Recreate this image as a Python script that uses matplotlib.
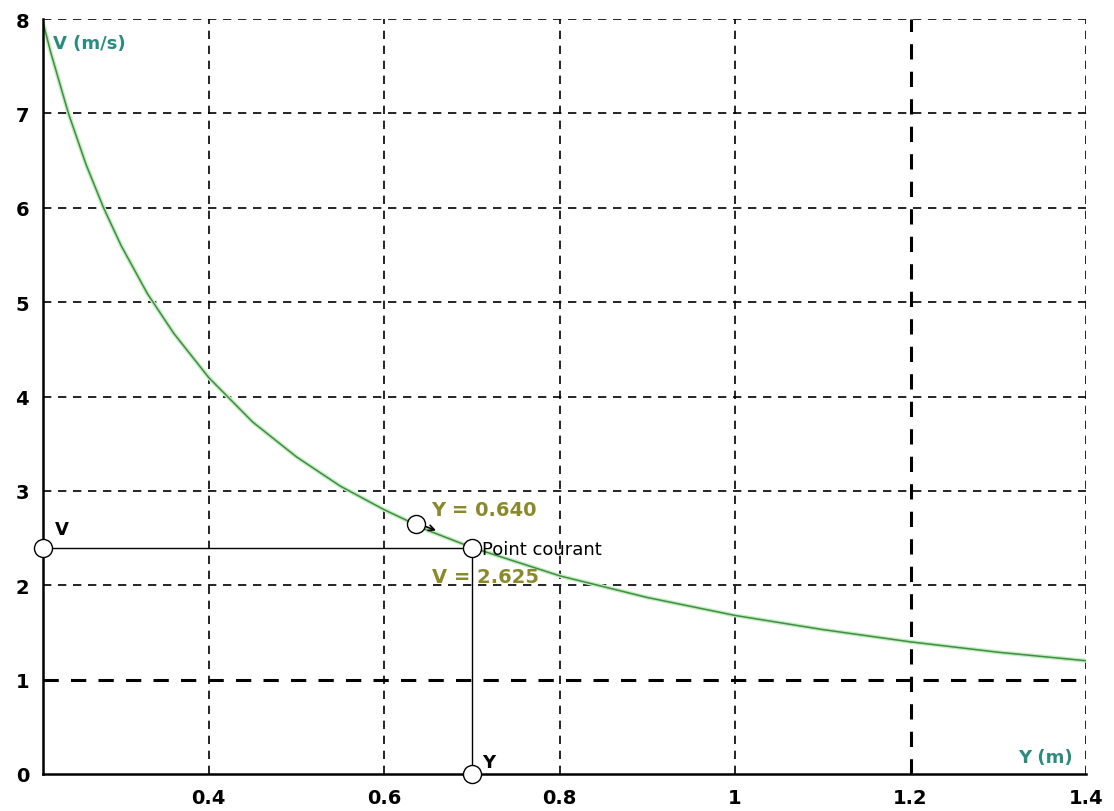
import matplotlib
matplotlib.use("Agg")
import matplotlib.pyplot as plt

# Curve values
depth_y = [0.21, 0.22, 0.24, 0.26, 0.28, 0.30, 0.33, 0.36, 0.40, 0.45, 0.50,
           0.55, 0.60, 0.65, 0.70, 0.80, 0.90, 1.00, 1.10, 1.20, 1.30, 1.40]
speed_v = [8.00, 7.64, 7.00, 6.46, 6.00, 5.60, 5.09, 4.67, 4.20, 3.73, 3.36,
           3.05, 2.80, 2.58, 2.40, 2.10, 1.87, 1.68, 1.53, 1.40, 1.29, 1.20]

x_ticks = [0.4, 0.6, 0.8, 1.0, 1.2, 1.4]
x_tick_labels = ["0.4", "0.6", "0.8", "1", "1.2", "1.4"]
y_ticks = [0, 1, 2, 3, 4, 5, 6, 7, 8]
y_tick_labels = ["0", "1", "2", "3", "4", "5", "6", "7", "8"]

current_point = (0.70, 2.40)
cursor_point = (0.636, 2.65)
cursor_label_y = "Y = 0.640"
cursor_label_v = "V = 2.625"

x_min, x_max = 0.211, 1.4
y_min, y_max = 0.0, 8.0

fig = plt.figure(figsize=(11.14, 8.12), dpi=100)
ax = fig.add_axes([43/1114, 1 - 775/812, (1086 - 43)/1114, (775 - 20)/812])
ax.set_xlim(x_min, x_max)
ax.set_ylim(y_min, y_max)

for s in ["top", "right"]:
    ax.spines[s].set_visible(False)
for s in ["left", "bottom"]:
    ax.spines[s].set_linewidth(1.8)
    ax.spines[s].set_color("black")
    ax.spines[s].set_zorder(5)

# grid
for xv in x_ticks:
    lw = 2.2 if abs(xv - 1.2) < 1e-9 else 1.2
    ax.axvline(xv, color="black", lw=lw, ls=(0, (5, 4)), zorder=1)
for yv in y_ticks[1:]:
    lw = 2.2 if yv == 1 else 1.2
    ax.axhline(yv, color="black", lw=lw, ls=(0, (5, 4)), zorder=1)

ax.set_xticks(x_ticks)
ax.set_xticklabels(x_tick_labels)
ax.set_yticks(y_ticks)
ax.set_yticklabels(y_tick_labels)
ax.tick_params(length=0, labelsize=14, pad=10)
for lab in ax.get_xticklabels() + ax.get_yticklabels():
    lab.set_fontweight("bold")
    lab.set_family("DejaVu Sans")

# curve
ax.plot(depth_y, speed_v, color="#c4ecc4", lw=3.0, zorder=2, solid_capstyle="round")
ax.plot(depth_y, speed_v, color="#3f8f3f", lw=1.1, zorder=3)

# crosshair lines
px, py = current_point
ax.plot([x_min, px], [py, py], color="black", lw=1.0, zorder=4)
ax.plot([px, px], [0, py], color="black", lw=1.0, zorder=4)

circ = dict(marker="o", ms=13, mfc="white", mec="black", mew=1.0, ls="none", zorder=6)
ax.plot([x_min], [py], clip_on=False, **circ)
ax.plot([px], [py], **circ)
ax.plot([px], [0], clip_on=False, **circ)
ax.plot([cursor_point[0]], [cursor_point[1]], **circ)
ax.annotate("", xy=(0.662, 2.57), xytext=(0.645, 2.63),
            arrowprops=dict(arrowstyle="->", color="black", lw=1.2), zorder=6)

ax.text(0.225, py + 0.1, "V", fontsize=13, fontweight="bold", ha="left", va="bottom")
ax.text(px + 0.012, 0.03, "Y", fontsize=13, fontweight="bold", ha="left", va="bottom")
ax.text(0.654, 2.80, cursor_label_y, fontsize=14, fontweight="bold",
        color="#8a8a2a", ha="left", va="center", zorder=5)
ax.text(0.654, 2.09, cursor_label_v, fontsize=14, fontweight="bold",
        color="#8a8a2a", ha="left", va="center", zorder=5)
ax.text(px + 0.012, py - 0.02, "Point courant", fontsize=13, color="black",
        ha="left", va="center", zorder=7)

ax.text(0.222, 7.75, "V (m/s)", fontsize=13, fontweight="bold", color="#2a8c80",
        ha="left", va="center")
ax.text(1.385, 0.18, "Y (m)", fontsize=13, fontweight="bold", color="#2a8c80",
        ha="right", va="center")

fig.savefig("out.png", dpi=100)
